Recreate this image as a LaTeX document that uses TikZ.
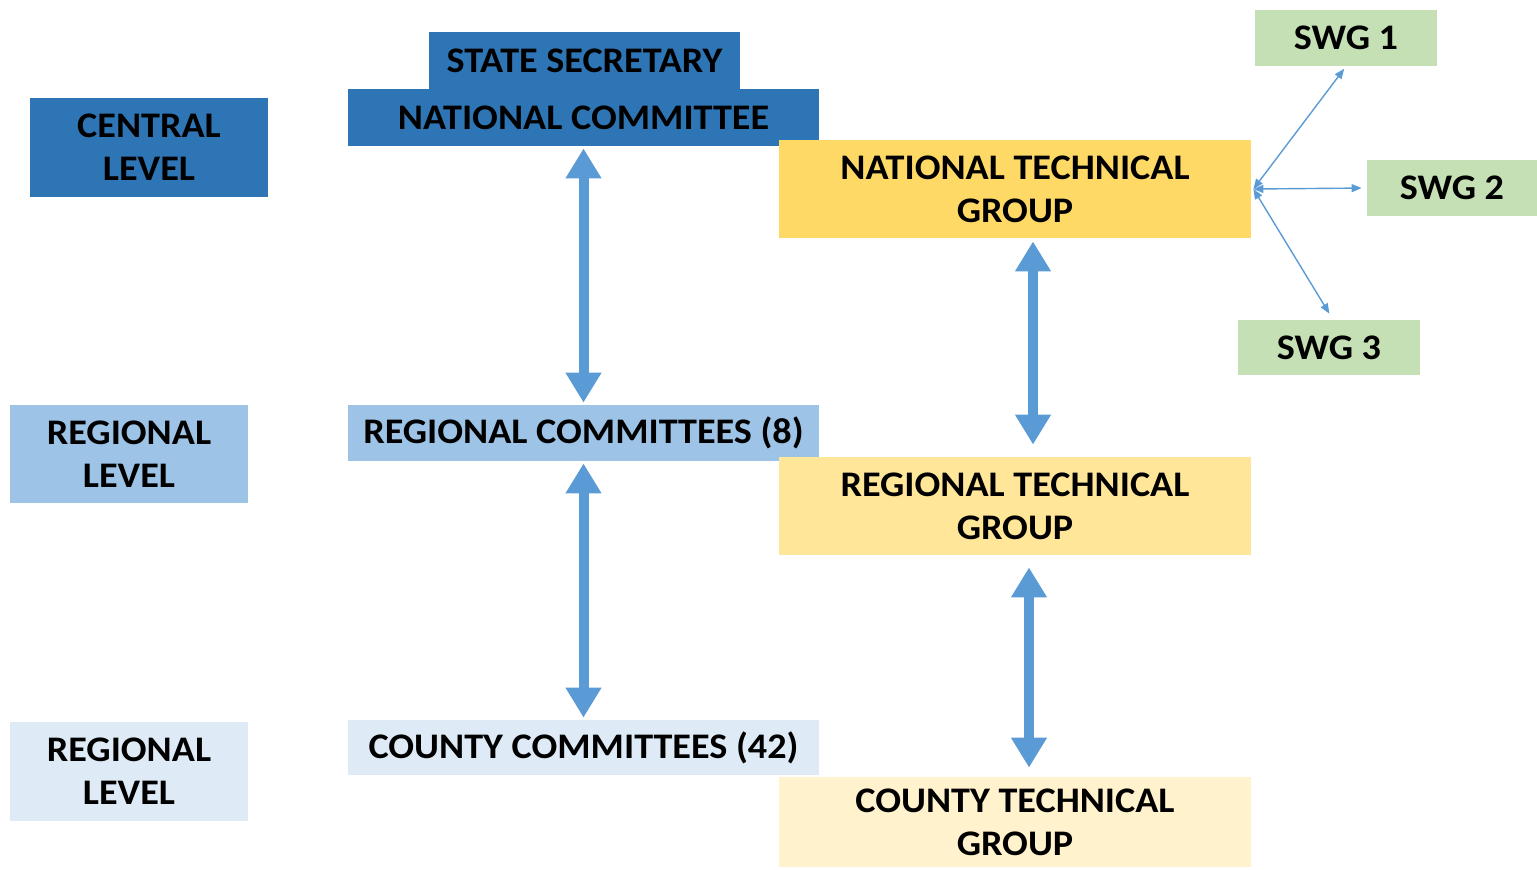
\documentclass[tikz,border=0pt]{standalone}
\usepackage{fontspec}
\setmainfont{Carlito}[FakeStretch=1.06]
\usetikzlibrary{arrows.meta}
\definecolor{dblue}{HTML}{2E75B6}
\definecolor{mblue}{HTML}{9DC3E6}
\definecolor{lblue}{HTML}{DEEBF7}
\definecolor{yel1}{HTML}{FFD966}
\definecolor{yel2}{HTML}{FFE699}
\definecolor{yel3}{HTML}{FFF2CC}
\definecolor{swgreen}{HTML}{C5E0B4}
\definecolor{arrblue}{HTML}{5B9BD5}
\tikzset{
  box/.style={rectangle, inner sep=0pt, align=center, font=\fontsize{18}{21.5}\selectfont\bfseries, text=black},
  bigarrow/.style={arrblue, line width=5pt, {Triangle[width=17pt,length=15pt]}-{Triangle[width=17pt,length=15pt]}},
  thinarrow/.style={arrblue, line width=0.7pt, {Triangle[width=4pt,length=5pt]}-{Triangle[width=4pt,length=5pt]}}
}
\begin{document}
\begin{tikzpicture}[x=0.5pt,y=-0.5pt]
\useasboundingbox (0,0) rectangle (1537,869);
% left level labels
\node[box, fill=dblue, minimum width=119pt, minimum height=49.5pt] (central) at (149,147.5) {CENTRAL\\LEVEL};
\node[box, fill=mblue, minimum width=119pt, minimum height=49pt] (reglev) at (129,454) {REGIONAL\\LEVEL};
\node[box, fill=lblue, minimum width=119pt, minimum height=49.5pt] (reglev2) at (129,771.5) {REGIONAL\\LEVEL};
% committees
\node[box, fill=dblue, minimum width=155.5pt, minimum height=29pt] (ss) at (584.5,61) {STATE SECRETARY};
\node[box, fill=dblue, minimum width=235.5pt, minimum height=28.5pt] (nc) at (583.5,117.5) {NATIONAL COMMITTEE};
\node[box, fill=mblue, minimum width=235.5pt, minimum height=28pt] (rc) at (583.5,433) {REGIONAL COMMITTEES (8)};
\node[box, fill=lblue, minimum width=235.5pt, minimum height=27.5pt] (cc) at (583.5,747.5) {COUNTY COMMITTEES (42)};
% technical groups
\node[box, fill=yel1, minimum width=236pt, minimum height=49pt] (ntg) at (1015,189) {NATIONAL TECHNICAL\\GROUP};
\node[box, fill=yel2, minimum width=236pt, minimum height=49pt] (rtg) at (1015,506) {REGIONAL TECHNICAL\\GROUP};
\node[box, fill=yel3, minimum width=236pt, minimum height=45pt] (ctg) at (1015,822) {COUNTY TECHNICAL\\GROUP};
% SWGs
\node[box, fill=swgreen, minimum width=91pt, minimum height=28pt] (swg1) at (1346,38) {SWG 1};
\node[box, fill=swgreen, minimum width=85pt, minimum height=28pt] (swg2) at (1452,188) {SWG 2};
\node[box, fill=swgreen, minimum width=91pt, minimum height=27.5pt] (swg3) at (1329,347.5) {SWG 3};
% big arrows
\draw[bigarrow, shorten <=1pt, shorten >=1pt] (nc.south) -- (rc.north);
\draw[bigarrow, shorten <=1pt, shorten >=1pt] (rc.south) -- (cc.north);
\draw[bigarrow, shorten <=1.5pt, shorten >=6pt] ([xshift=9pt]ntg.south) -- ([xshift=9pt]rtg.north);
\draw[bigarrow, shorten <=6pt, shorten >=4.5pt] ([xshift=7pt]rtg.south) -- ([xshift=7pt]ctg.north);
% thin arrows
\coordinate (hub) at ([xshift=1pt]ntg.east);
\draw[thinarrow, shorten >=1.5pt] (hub) -- (swg1.south);
\draw[thinarrow, shorten >=2.5pt] (hub) -- (swg2.west);
\draw[thinarrow, shorten >=3.5pt] (hub) -- ([xshift=2pt]swg3.north);
\end{tikzpicture}
\end{document}
